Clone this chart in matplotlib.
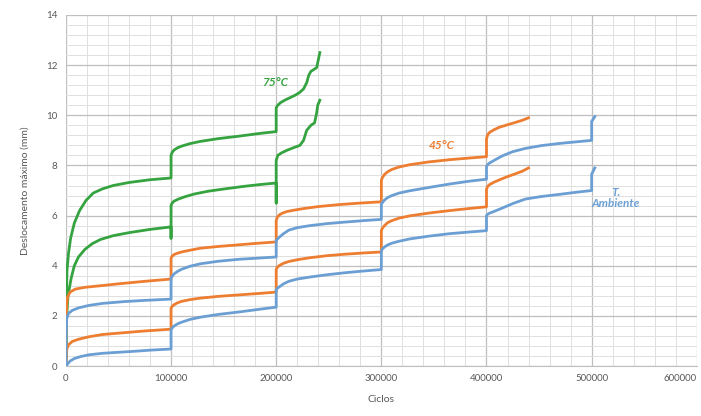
# ===============================================================================
#       IMPORTS
# ===============================================================================
import matplotlib
matplotlib.use("Agg")
import matplotlib.pyplot as plt
from matplotlib.ticker import MultipleLocator

# ===============================================================================
#       DATA
# ===============================================================================

# 75 C - upper test
G1_CYC = [0, 300, 1000, 2500, 4500, 8000, 13000, 19000, 26000, 35000, 45000, 60000, 80000, 100000,
          100000, 101000, 103000, 106000, 110000, 118000, 128000, 145000, 165000, 185000, 200000,
          200000, 201500, 204000, 208000, 213000, 218000, 222000, 226000, 229000, 231000, 233000,
          238500, 239500, 241500]
G1_DISP = [0.3, 2.3, 3.8, 4.5, 5.1, 5.7, 6.2, 6.6, 6.9, 7.07, 7.2, 7.32, 7.43, 7.5,
           8.4, 8.52, 8.62, 8.7, 8.77, 8.87, 8.96, 9.07, 9.17, 9.28, 9.35,
           10.3, 10.4, 10.5, 10.6, 10.7, 10.8, 10.9, 11.05, 11.3, 11.6, 11.75,
           11.9, 12.1, 12.5]

# 75 C - lower test
G2_CYC = [0, 500, 2000, 5000, 8000, 12000, 18000, 25000, 33000, 45000, 60000, 80000, 100000,
          100000, 100000, 101000, 103000, 107000, 113000, 122000, 135000, 150000, 170000, 185000, 200000,
          200000, 200000, 201500, 205000, 210000, 216000, 222500, 226000, 229000, 233000, 236500,
          238500, 239500, 241500]
G2_DISP = [0.0, 1.8, 2.8, 3.5, 4.0, 4.35, 4.65, 4.88, 5.05, 5.2, 5.32, 5.45, 5.55,
           5.1, 6.4, 6.5, 6.58, 6.66, 6.75, 6.86, 6.97, 7.06, 7.17, 7.24, 7.3,
           6.5, 8.2, 8.4, 8.5, 8.6, 8.7, 8.8, 9.0, 9.4, 9.6, 9.7,
           10.1, 10.4, 10.6]

# 45 C - upper test
O1_CYC = [0, 300, 700, 1500, 4000, 9000, 18000, 32000, 50000, 75000, 100000,
          100000, 101000, 103000, 106000, 110000, 118000, 128000, 145000, 160000, 180000, 200000,
          200000, 201000, 203000, 206000, 210000, 216000, 226000, 240000, 260000, 280000, 300000,
          300000, 301000, 303000, 306000, 310000, 317000, 327000, 345000, 365000, 385000, 400000,
          400000, 401000, 403000, 407000, 412000, 419000, 427000, 434000, 440000]
O1_DISP = [0.0, 1.6, 2.4, 2.75, 2.95, 3.07, 3.14, 3.2, 3.28, 3.38, 3.47,
           4.3, 4.38, 4.45, 4.5, 4.55, 4.62, 4.7, 4.77, 4.82, 4.89, 4.95,
           5.8, 5.93, 6.03, 6.1, 6.16, 6.21, 6.28, 6.36, 6.44, 6.5, 6.55,
           7.4, 7.52, 7.64, 7.75, 7.84, 7.94, 8.03, 8.14, 8.23, 8.3, 8.35,
           9.05, 9.22, 9.32, 9.42, 9.52, 9.61, 9.71, 9.8, 9.9]

# 45 C - lower test
O2_CYC = [0, 400, 1000, 2500, 6000, 12000, 22000, 35000, 55000, 75000, 100000,
          100000, 101000, 103000, 106000, 110000, 118000, 128000, 145000, 165000, 185000, 200000,
          200000, 201000, 203000, 207000, 212000, 220000, 232000, 248000, 265000, 283000, 300000,
          300000, 301000, 303000, 306000, 310000, 317000, 327000, 345000, 365000, 385000, 400000,
          400000, 401000, 403000, 407000, 412000, 419000, 427000, 434000, 440000]
O2_DISP = [0.0, 0.45, 0.7, 0.85, 0.98, 1.07, 1.17, 1.26, 1.33, 1.4, 1.47,
           2.3, 2.38, 2.45, 2.52, 2.58, 2.65, 2.71, 2.78, 2.84, 2.9, 2.95,
           3.85, 3.94, 4.01, 4.1, 4.17, 4.24, 4.32, 4.4, 4.46, 4.51, 4.55,
           5.4, 5.5, 5.6, 5.72, 5.8, 5.9, 5.99, 6.1, 6.2, 6.29, 6.35,
           7.05, 7.16, 7.24, 7.33, 7.42, 7.54, 7.66, 7.77, 7.9]

# Room temperature - upper test
B1_CYC = [0, 300, 800, 2500, 6000, 12000, 22000, 35000, 55000, 75000, 100000,
          100000, 101000, 103000, 106000, 110000, 118000, 128000, 145000, 165000, 185000, 200000,
          200000, 201000, 203000, 207000, 212000, 220000, 232000, 248000, 265000, 283000, 300000,
          300000, 301000, 303000, 306000, 310000, 317000, 327000, 345000, 365000, 385000, 400000,
          400000, 401000, 403000, 408000, 415000, 425000, 437000, 452000, 470000, 485000, 500000,
          500000, 503000]
B1_DISP = [0.0, 1.3, 1.9, 2.1, 2.22, 2.32, 2.42, 2.5, 2.57, 2.62, 2.67,
           3.5, 3.58, 3.68, 3.77, 3.86, 3.98, 4.08, 4.18, 4.26, 4.31, 4.35,
           5.0, 5.06, 5.14, 5.28, 5.42, 5.52, 5.6, 5.68, 5.74, 5.8, 5.85,
           6.45, 6.52, 6.62, 6.72, 6.8, 6.9, 6.99, 7.12, 7.26, 7.38, 7.45,
           7.95, 8.03, 8.1, 8.22, 8.38, 8.55, 8.68, 8.79, 8.88, 8.94, 9.0,
           9.75, 9.95]

# Room temperature - lower test
B2_CYC = [0, 1500, 4000, 8000, 14000, 22000, 35000, 50000, 65000, 82000, 100000,
          100000, 101000, 103000, 106000, 110000, 118000, 128000, 145000, 165000, 185000, 200000,
          200000, 201000, 203000, 207000, 212000, 220000, 232000, 248000, 265000, 283000, 300000,
          300000, 301000, 303000, 306000, 310000, 317000, 327000, 345000, 365000, 385000, 400000,
          400000, 401000, 403000, 408000, 415000, 425000, 437000, 452000, 470000, 485000, 500000,
          500000, 503000]
B2_DISP = [0.0, 0.08, 0.2, 0.3, 0.38, 0.45, 0.51, 0.55, 0.59, 0.64, 0.68,
           1.45, 1.52, 1.6, 1.68, 1.75, 1.86, 1.95, 2.06, 2.16, 2.27, 2.35,
           3.05, 3.1, 3.16, 3.28, 3.38, 3.47, 3.55, 3.64, 3.72, 3.79, 3.85,
           4.6, 4.67, 4.75, 4.83, 4.9, 4.98, 5.07, 5.18, 5.28, 5.35, 5.4,
           6.0, 6.05, 6.1, 6.18, 6.3, 6.48, 6.66, 6.76, 6.85, 6.93, 7.0,
           7.65, 7.9]

# Axis ticks
X_TICKS = [0, 100000, 200000, 300000, 400000, 500000, 600000]
X_TICK_LABELS = ["0", "100000", "200000", "300000", "400000", "500000", "600000"]

# Curve labels
LABEL_75 = "75°C"
LABEL_45 = "45°C"
LABEL_AMB = "T.\nAmbiente"

# ===============================================================================
#       PLOT CONFIGURATIONS
# ===============================================================================
COL_GREEN = "#35a33f"
COL_ORANGE = "#ed7d31"
COL_BLUE = "#6b9fd3"
COL_TEXT = "#595959"
LINE_W = 2.0

plt.rcParams["font.family"] = ["Lato", "DejaVu Sans"]

# ===============================================================================
#       PLOT DATA
# ===============================================================================
fig = plt.figure(figsize=(7.01, 4.16), dpi=100)
ax = fig.add_axes([0.094, 0.120, 0.900, 0.844])

ax.plot(G1_CYC, G1_DISP, color=COL_GREEN, lw=LINE_W, zorder=3)
ax.plot(G2_CYC, G2_DISP, color=COL_GREEN, lw=LINE_W, zorder=3)
ax.plot(O1_CYC, O1_DISP, color=COL_ORANGE, lw=LINE_W, zorder=3)
ax.plot(O2_CYC, O2_DISP, color=COL_ORANGE, lw=LINE_W, zorder=3)
ax.plot(B1_CYC, B1_DISP, color=COL_BLUE, lw=LINE_W, zorder=3)
ax.plot(B2_CYC, B2_DISP, color=COL_BLUE, lw=LINE_W, zorder=3)

ax.text(199000, 11.3, LABEL_75, color=COL_GREEN, fontsize=8.5,
        fontstyle="italic", fontweight="bold", ha="center", va="center")
ax.text(357000, 8.8, LABEL_45, color=COL_ORANGE, fontsize=8.5,
        fontstyle="italic", fontweight="bold", ha="center", va="center")
ax.text(523000, 6.7, LABEL_AMB, color=COL_BLUE, fontsize=8.5,
        fontstyle="italic", fontweight="bold", ha="center", va="center",
        linespacing=1.0)

# Axis limits & grid
ax.set_xlim(0, 600000)
ax.set_ylim(0, 14)
ax.set_xticks(X_TICKS)
tick_lbl = ax.set_xticklabels(X_TICK_LABELS)
tick_lbl[-1].set_horizontalalignment("right")
ax.xaxis.set_minor_locator(MultipleLocator(20000))
ax.yaxis.set_major_locator(MultipleLocator(2))
ax.yaxis.set_minor_locator(MultipleLocator(0.4))

ax.grid(which="major", color="#bfbfbf", lw=0.9, zorder=1)
ax.grid(which="minor", color="#e0e0e0", lw=0.7, zorder=0)
ax.set_axisbelow(True)

for side in ["top", "right", "left"]:
    ax.spines[side].set_visible(False)
ax.spines["bottom"].set_color("#bfbfbf")

ax.tick_params(which="both", length=0, labelsize=7, colors=COL_TEXT, pad=6)

ax.set_xlabel("Ciclos", fontsize=7.5, color=COL_TEXT, labelpad=8)
ax.set_ylabel("Deslocamento máximo (mm)", fontsize=7.5, color=COL_TEXT, labelpad=12)

fig.savefig("out.png", dpi=100)

# ===============================================================================
#       END OF FILE
# ===============================================================================
